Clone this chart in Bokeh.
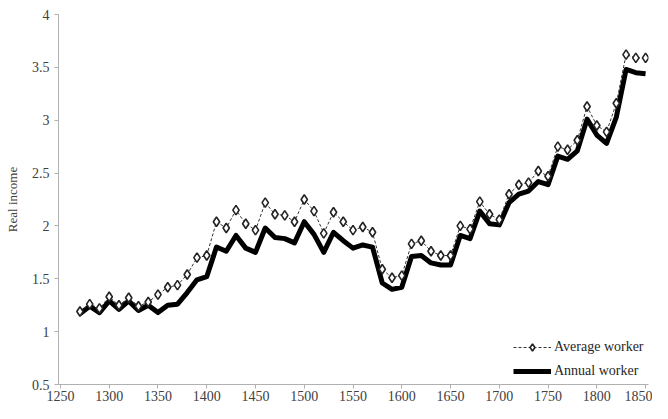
from bokeh.plotting import figure
from bokeh.models import Range1d, FixedTicker, Legend, LegendItem
from bokeh.embed import file_html
from bokeh.resources import INLINE

years = [1270, 1280, 1290, 1300, 1310, 1320, 1330, 1340, 1350, 1360,
         1370, 1380, 1390, 1400, 1410, 1420, 1430, 1440, 1450, 1460,
         1470, 1480, 1490, 1500, 1510, 1520, 1530, 1540, 1550, 1560,
         1570, 1580, 1590, 1600, 1610, 1620, 1630, 1640, 1650, 1660,
         1670, 1680, 1690, 1700, 1710, 1720, 1730, 1740, 1750, 1760,
         1770, 1780, 1790, 1800, 1810, 1820, 1830, 1840, 1850]

average_worker = [1.19, 1.26, 1.22, 1.33, 1.25, 1.32, 1.24, 1.28, 1.35, 1.42,
                  1.44, 1.54, 1.70, 1.72, 2.04, 1.98, 2.15, 2.02, 1.96, 2.22,
                  2.11, 2.10, 2.04, 2.25, 2.14, 1.93, 2.13, 2.04, 1.96, 1.99,
                  1.94, 1.59, 1.51, 1.53, 1.83, 1.86, 1.76, 1.72, 1.72, 2.00,
                  1.97, 2.23, 2.11, 2.06, 2.30, 2.39, 2.41, 2.52, 2.47, 2.75,
                  2.72, 2.81, 3.13, 2.95, 2.89, 3.16, 3.62, 3.59, 3.59]

annual_worker = [1.17, 1.24, 1.18, 1.29, 1.21, 1.29, 1.20, 1.25, 1.18, 1.25,
                 1.26, 1.37, 1.49, 1.52, 1.80, 1.76, 1.91, 1.79, 1.75, 1.98,
                 1.89, 1.88, 1.84, 2.04, 1.92, 1.75, 1.94, 1.86, 1.79, 1.82,
                 1.80, 1.46, 1.40, 1.42, 1.71, 1.72, 1.65, 1.63, 1.63, 1.91,
                 1.88, 2.14, 2.02, 2.01, 2.22, 2.30, 2.33, 2.42, 2.39, 2.66,
                 2.63, 2.71, 3.01, 2.86, 2.78, 3.03, 3.48, 3.45, 3.44]

x_ticks = [1250, 1300, 1350, 1400, 1450, 1500, 1550, 1600, 1650, 1700, 1750, 1800, 1850]
y_ticks = [0.5, 1, 1.5, 2, 2.5, 3, 3.5, 4]
y_tick_labels = ["0.5", "1", "1.5", "2", "2.5", "3", "3.5", "4"]

FONT = "'Liberation Serif'"
AXIS_COL = "#b0b0b0"
TEXT_COL = "#404040"

p = figure(width=652, height=403, output_backend="svg", toolbar_location=None,
           x_range=Range1d(1248, 1853), y_range=Range1d(0.5, 4),
           min_border_left=58, min_border_right=4, min_border_top=14,
           min_border_bottom=0)
p.outline_line_color = None
p.xgrid.visible = False
p.ygrid.visible = False
p.background_fill_color = "white"
p.border_fill_color = "white"

for ax in (p.xaxis[0], p.yaxis[0]):
    ax.axis_line_color = AXIS_COL
    ax.major_tick_line_color = AXIS_COL
    ax.minor_tick_line_color = None
    ax.major_tick_out = 4
    ax.major_tick_in = 0
    ax.major_label_text_font = FONT
    ax.major_label_text_font_size = "14px"
    ax.major_label_text_color = TEXT_COL

p.xaxis.ticker = FixedTicker(ticks=x_ticks)
p.xaxis.major_label_standoff = 2
p.yaxis.ticker = FixedTicker(ticks=y_ticks)
p.yaxis.major_label_overrides = dict(zip(y_ticks, y_tick_labels))
p.yaxis.major_label_standoff = 5
p.yaxis.axis_label = "Real income"
p.yaxis.axis_label_text_font = FONT
p.yaxis.axis_label_text_font_size = "13px"
p.yaxis.axis_label_text_font_style = "normal"
p.yaxis.axis_label_text_color = TEXT_COL
p.yaxis.axis_label_standoff = 9

r_annual = p.line(years, annual_worker, line_color="black", line_width=5,
                  line_join="round")
r_avg_line = p.line(years, average_worker, line_color="#333333", line_width=1,
                    line_dash="3 2")
r_avg_pts = p.scatter(years, average_worker, marker="diamond",
                      size=9.5, fill_color="white", line_color="#222222",
                      line_width=1.6)

legend = Legend(items=[
    LegendItem(label="Average worker", renderers=[r_avg_line, r_avg_pts]),
    LegendItem(label="Annual worker", renderers=[r_annual]),
], location=(455, 4))
legend.background_fill_alpha = 0
legend.border_line_color = None
legend.label_text_font = FONT
legend.label_text_font_size = "14px"
legend.label_text_color = "#262626"
legend.glyph_width = 38
legend.glyph_height = 18
legend.label_height = 18
legend.label_standoff = 3
legend.spacing = 6
legend.padding = 4
legend.margin = 0
p.add_layout(legend)

open("out.html", "w").write(file_html(p, INLINE))
